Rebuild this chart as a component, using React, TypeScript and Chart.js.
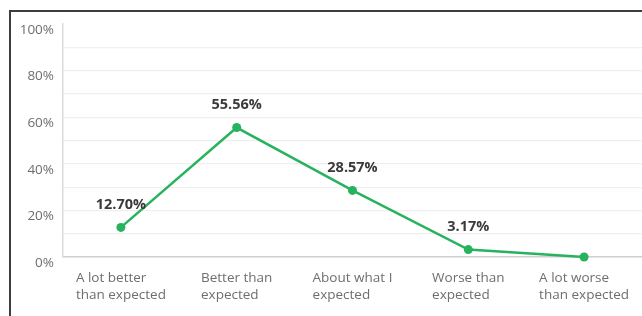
import React, { useEffect, useRef } from 'react';
import { Chart, registerables } from 'chart.js';

Chart.register(...registerables);

const categories: string[][] = [
  ['A lot better', 'than expected'],
  ['Better than', 'expected'],
  ['About what I', 'expected'],
  ['Worse than', 'expected'],
  ['A lot worse', 'than expected'],
];
const values: number[] = [12.7, 55.56, 28.57, 3.17, 0];
const valueLabels: string[] = ['12.70%', '55.56%', '28.57%', '3.17%', ''];
const yLabelValues: number[] = [0, 20, 40, 60, 80, 100];

const FONT = "'Open Sans', 'DejaVu Sans', sans-serif";
const GREEN = '#27b35d';

export default function App() {
  const ref = useRef<HTMLCanvasElement | null>(null);

  useEffect(() => {
    if (!ref.current) return;

    const xLabelPlugin = {
      id: 'xLabelsLeftBlock',
      afterDraw(chart: any) {
        const ctx = chart.ctx;
        const xs = chart.scales.x;
        ctx.save();
        ctx.font = `13.5px ${FONT}`;
        ctx.fillStyle = '#6e6e6e';
        ctx.textAlign = 'left';
        ctx.textBaseline = 'middle';
        categories.forEach((lines, i) => {
          const cx = xs.getPixelForValue(i);
          const w = Math.max(...lines.map((l) => ctx.measureText(l).width));
          const x0 = cx - w / 2;
          lines.forEach((l, j) => {
            ctx.fillText(l, x0, xs.bottom - 37.5 + j * 17);
          });
        });
        ctx.restore();
      },
    };

    const dataLabelPlugin = {
      id: 'valueLabels',
      afterDatasetsDraw(chart: any) {
        const ctx = chart.ctx;
        const meta = chart.getDatasetMeta(0);
        ctx.save();
        ctx.font = `bold 14.5px ${FONT}`;
        ctx.fillStyle = '#3a3a3a';
        ctx.textAlign = 'center';
        ctx.textBaseline = 'middle';
        meta.data.forEach((pt: any, i: number) => {
          const t = valueLabels[i];
          if (!t) return;
          ctx.fillText(t, pt.x, pt.y - 23);
        });
        ctx.restore();
      },
    };

    const chart = new Chart(ref.current, {
      type: 'line',
      data: {
        labels: categories.map((c) => c.join(' ')),
        datasets: [
          {
            data: values,
            borderColor: GREEN,
            backgroundColor: GREEN,
            borderWidth: 2.5,
            pointRadius: 4.5,
            pointHoverRadius: 4.5,
            pointBackgroundColor: GREEN,
            pointBorderWidth: 0,
            tension: 0,
            fill: false,
            clip: false,
          },
        ],
      },
      options: {
        animation: false,
        responsive: false,
        maintainAspectRatio: false,
        layout: { autoPadding: false, padding: { top: 24, left: 0, right: 0, bottom: 0 } },
        plugins: {
          legend: { display: false },
          tooltip: { enabled: false },
          title: { display: false },
        },
        scales: {
          x: {
            type: 'category',
            offset: true,
            grid: { display: false },
            border: { display: true, color: '#cfcfcf', width: 1.5 },
            ticks: { display: false },
            afterFit(scale: any) {
              scale.height = 59;
            },
          },
          y: {
            min: 0,
            max: 100,
            grid: {
              drawTicks: false,
              color: (c: any) => (c.tick && c.tick.value === 100 ? 'rgba(0,0,0,0)' : '#efefef'),
              lineWidth: 1.2,
            },
            border: { display: true, color: '#dcdcdc', width: 1.5 },
            ticks: {
              stepSize: 10,
              autoSkip: false,
              padding: 9,
              labelOffset: 6,
              color: '#6e6e6e',
              font: { family: FONT, size: 13.5 },
              callback: (v: any) => (yLabelValues.includes(Number(v)) ? `${v}%` : ''),
            },
            afterFit(scale: any) {
              scale.width = 63;
            },
          },
        },
      },
      plugins: [xLabelPlugin, dataLabelPlugin],
    });

    return () => chart.destroy();
  }, []);

  return (
    <div
      style={{
        position: 'fixed',
        left: 0,
        top: 0,
        width: 642,
        height: 316,
        overflow: 'hidden',
        background: '#ffffff',
      }}
    >
      <div
        style={{
          position: 'absolute',
          left: 9,
          top: 10,
          width: 700,
          height: 400,
          borderTop: '2px solid #3d3d3d',
          borderLeft: '2px solid #3d3d3d',
          boxSizing: 'border-box',
        }}
      />
      <canvas
        ref={ref}
        width={642}
        height={316}
        style={{ position: 'absolute', left: 0, top: 0, width: 642, height: 316 }}
      />
    </div>
  );
}
